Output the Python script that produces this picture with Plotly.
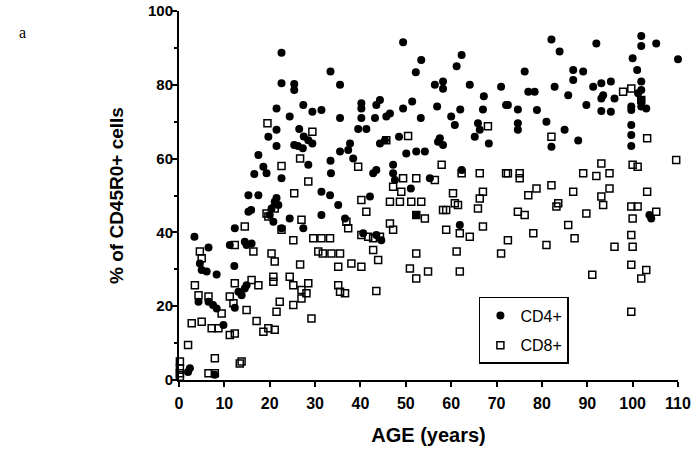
import plotly.graph_objects as go

# CD4+ (filled circles): age (years), % CD45R0+ cells
cd4_age = [22.6, 22.6, 25.4, 25.4, 33.4, 35.5, 21.5, 24.4, 27.4, 29.4, 31.4, 35.5, 21.5, 19.7, 21.5,
           26.5, 27.5, 28.5, 26.2, 27.3, 25.4, 29.4, 17.5, 18.6, 19.3, 16.6, 22.6, 28.5, 33.4, 33.5,
           35.5, 15.3, 17.5, 21.5, 31.4, 33.3,
           49.4, 53.4, 52.2, 62.3, 61.2, 56.4, 58.2, 58.2, 64.1, 71.0, 67.2, 40.2, 40.2, 44.3, 43.5,
           51.4, 49.4, 56.9, 62.0, 67.0, 72.1, 40.2, 43.2, 45.7, 46.5, 53.3, 60.0, 60.8, 65.9, 66.3,
           65.2, 39.5, 41.3, 44.3, 45.4, 48.5, 37.7, 37.3, 38.4, 50.1, 52.3, 54.2, 57.5, 58.2, 57.1,
           68.3, 42.8, 43.5, 47.2, 47.2, 47.6, 55.3, 62.3, 42.1, 51.1,
           82.1, 83.9, 92.0, 101.9, 101.9, 105.2, 110.0, 100.0, 101.0, 76.2, 86.9, 89.1, 86.9, 82.8,
           77.0, 78.4, 85.8, 91.3, 93.1, 95.2, 93.5, 93.1, 96.0, 101.9, 101.9, 101.2, 101.9, 89.8,
           72.5, 74.7, 78.9, 93.1, 95.2, 99.7, 99.7, 101.9, 103.0, 81.0, 74.7, 74.7, 85.0, 82.1,
           88.0, 99.7, 99.7, 99.7,
           15.9, 3.4, 6.5, 12.3, 11.2, 14.5, 14.9, 16.0, 4.6, 5.0, 6.1, 8.3, 12.2, 20.4, 21.1, 21.9,
           20.0, 20.8, 24.4, 22.6, 27.4, 31.4, 35.1, 4.3, 6.5, 7.5, 8.3, 9.8, 13.1, 13.8, 14.5, 14.9,
           12.3, 2.4, 2.0, 7.9, 15.3,
           61.9, 52.3, 36.6, 40.6, 43.5, 44.6, 103.7, 104.1]
cd4_val = [88.7, 80.4, 80.2, 78.6, 83.6, 80.0, 73.6, 71.4, 74.5, 72.7, 73.2, 71.0, 67.8, 65.9, 63.4,
           68.0, 66.0, 65.0, 63.4, 62.8, 63.7, 64.1, 61.0, 57.8, 56.0, 55.8, 54.7, 58.3, 59.4, 56.0,
           61.9, 50.1, 50.1, 49.3, 51.0, 50.1,
           91.5, 86.7, 83.4, 88.1, 85.0, 80.0, 80.9, 78.9, 80.0, 79.5, 76.9, 75.0, 73.6, 75.9, 74.5,
           75.5, 73.6, 74.1, 73.3, 73.3, 74.5, 71.0, 71.0, 71.4, 72.2, 71.0, 71.4, 69.1, 69.6, 67.8,
           65.9, 68.0, 68.0, 64.1, 65.0, 65.9, 64.1, 62.3, 60.0, 61.4, 61.9, 61.9, 65.5, 63.7, 64.6,
           64.1, 56.0, 56.9, 58.3, 56.0, 54.2, 54.7, 56.9, 49.7, 51.9,
           92.3, 89.0, 91.2, 93.2, 90.5, 91.2, 86.9, 87.2, 84.0, 83.6, 84.0, 83.6, 81.3, 79.5,
           78.1, 78.1, 77.2, 79.5, 80.4, 80.9, 77.2, 76.3, 76.3, 80.9, 78.6, 77.7, 75.9, 74.5,
           74.5, 73.3, 73.2, 72.9, 72.7, 74.1, 73.2, 74.1, 73.6, 70.0, 69.6, 67.8, 67.8, 63.2,
           64.9, 69.1, 66.4, 63.4,
           46.1, 38.8, 35.9, 41.1, 36.6, 37.5, 36.6, 37.0, 31.6, 29.8, 29.4, 28.6, 30.9, 46.5, 48.3, 47.4,
           44.7, 42.9, 43.8, 41.1, 41.1, 44.7, 47.4, 21.2, 21.2, 20.3, 19.4, 14.9, 23.9, 23.0, 24.8, 25.7,
           19.6, 3.2, 2.2, 1.4, 45.6,
           42.0, 44.7, 43.8, 39.8, 39.3, 37.9, 44.7, 43.8]

# CD8+ (open squares)
cd8_age = [19.5, 29.4, 26.7, 22.6, 28.5, 25.4,
           45.7, 50.5, 68.1, 39.5, 49.4, 52.3, 56.4, 57.9, 62.3, 66.3, 72.1, 47.2, 49.0, 67.0, 60.4,
           97.9, 99.7, 101.9, 82.1, 103.2, 93.1, 100.0, 101.1, 109.6, 72.5, 75.1, 75.1, 89.1, 92.0,
           94.9, 82.1, 78.8, 77.0, 94.9, 103.2, 86.9, 93.1,
           14.5, 12.3, 16.4, 4.6, 5.0, 19.3, 19.7, 21.1, 22.6, 27.0, 25.2, 29.6, 31.4, 33.3, 30.7,
           31.7, 33.6, 35.5, 20.4, 21.1, 26.7, 35.1, 20.8, 20.8, 24.4, 25.2, 27.0, 28.5, 28.1, 35.1,
           35.5, 3.5, 4.3, 6.5, 12.3, 16.0, 17.5, 11.2, 12.0, 14.9, 9.4, 22.2, 21.5, 25.2, 27.0,
           29.2, 17.1, 18.6, 19.7, 21.1, 11.2, 12.3, 2.8, 5.0, 7.2, 8.7, 2.0, 7.9, 13.8, 13.4,
           0.2, 0.2, 0.2, 0.2, 6.5, 7.9,
           40.2, 41.3, 46.5, 48.7, 51.2, 53.4, 60.8, 61.5, 58.2, 58.9, 65.9, 66.3, 52.3, 54.2, 36.9,
           37.3, 46.5, 47.2, 58.9, 61.9, 64.1, 67.0, 40.2, 41.7, 42.8, 44.3, 42.8, 43.9, 52.3, 61.2,
           71.0, 72.5, 38.0, 40.2, 50.9, 52.3, 54.9, 61.9, 36.6, 43.5,
           83.2, 83.6, 93.5, 89.8, 99.7, 100.0, 101.1, 105.2, 74.7, 76.2, 85.8, 78.1, 81.0, 87.2,
           96.0, 99.7, 100.0, 99.7, 103.0, 101.9, 91.1, 99.7]
cd8_val = [69.6, 67.3, 60.0, 58.0, 53.8, 50.6,
           65.0, 66.1, 68.8, 57.8, 54.7, 54.7, 54.2, 58.3, 56.0, 56.0, 56.0, 52.4, 51.0, 51.0, 50.6,
           78.1, 79.0, 75.9, 65.9, 65.5, 58.7, 58.3, 57.8, 59.6, 56.0, 56.0, 54.7, 56.0, 55.3,
           56.0, 52.8, 51.9, 50.1, 51.9, 51.0, 51.0, 49.7,
           41.6, 36.6, 34.8, 34.8, 33.0, 45.1, 44.3, 46.5, 40.7, 43.4, 37.9, 38.4, 38.4, 38.4, 34.8,
           34.3, 34.3, 34.3, 34.3, 32.1, 31.3, 30.7, 28.0, 26.6, 28.0, 25.7, 24.4, 26.2, 23.5, 25.7,
           23.9, 25.7, 23.0, 22.6, 26.2, 27.1, 25.7, 22.6, 20.8, 19.0, 18.0, 21.2, 18.5, 20.3, 22.1,
           16.7, 16.0, 13.1, 14.0, 13.6, 12.2, 12.6, 15.4, 15.8, 14.0, 14.0, 9.5, 5.9, 5.0, 4.5,
           5.0, 3.2, 1.8, 0.9, 1.8, 1.8,
           48.8, 45.6, 48.3, 48.3, 48.3, 48.3, 47.9, 47.4, 46.1, 46.1, 46.5, 49.2, 44.7, 43.8, 42.9,
           41.1, 42.4, 40.7, 40.7, 39.8, 38.8, 41.6, 39.3, 38.8, 38.4, 38.8, 35.2, 32.5, 34.3, 34.8,
           34.3, 37.9, 31.6, 30.7, 30.2, 27.5, 29.4, 29.4, 23.5, 24.1,
           47.0, 47.9, 47.4, 45.1, 47.0, 43.8, 47.0, 45.6, 45.6, 44.7, 42.0, 39.8, 36.6, 38.4,
           36.1, 39.3, 36.1, 31.2, 29.8, 27.5, 28.5, 18.5]

x_ticks = [0, 10, 20, 30, 40, 50, 60, 70, 80, 90, 100, 110]
y_ticks = [0, 20, 40, 60, 80, 100]

FONT = "Liberation Sans"

fig = go.Figure()
fig.add_trace(go.Scatter(
    x=cd4_age, y=cd4_val, mode="markers", name="CD4+", legendgroup="a",
    marker=dict(symbol="circle", size=8, color="black", line=dict(width=0)),
    cliponaxis=False))
fig.add_trace(go.Scatter(
    x=cd8_age, y=cd8_val, mode="markers", name="CD8+", legendgroup="b",
    marker=dict(symbol="square-open", size=7, color="black", line=dict(width=1.5, color="black")),
    cliponaxis=False))

fig.update_layout(
    width=697, height=469,
    margin=dict(l=179, r=19, t=11, b=89, autoexpand=False),
    paper_bgcolor="white", plot_bgcolor="white",
    font=dict(family=FONT, color="black"),
    showlegend=True,
    legend=dict(x=0.601, y=0.225, xanchor="left", yanchor="top",
                bordercolor="black", borderwidth=1.5, bgcolor="white",
                font=dict(family=FONT, size=16, color="black"),
                tracegroupgap=6, traceorder="grouped"),
    xaxis=dict(range=[0, 110], tickvals=x_ticks, ticktext=[str(v) for v in x_ticks],
               automargin=False,
               showgrid=False, zeroline=False, showline=True, linecolor="black", linewidth=2,
               ticks="outside", ticklen=5, tickwidth=1.5, tickcolor="black",
               ticklabelstandoff=3,
               tickfont=dict(family=FONT, size=16, color="black", weight="bold"),
               title=dict(text="AGE (years)", standoff=17,
                          font=dict(family=FONT, size=20, color="black", weight="bold"))),
    yaxis=dict(range=[0, 100], tickvals=y_ticks, ticktext=[str(v) for v in y_ticks],
               automargin=False,
               showgrid=False, zeroline=False, showline=True, linecolor="black", linewidth=2,
               ticks="outside", ticklen=5, tickwidth=1.5, tickcolor="black",
               ticklabelstandoff=-4,
               minor=dict(dtick=10, ticks="outside", ticklen=3, tickcolor="black", showgrid=False),
               tickfont=dict(family=FONT, size=15, color="black", weight="bold"),
               title=dict(text="% of CD45R0+ cells", standoff=19,
                          font=dict(family=FONT, size=19, color="black", weight="bold"))),
    annotations=[dict(text="a", xref="paper", yref="paper", x=-0.313, y=0.943,
                      xanchor="center", yanchor="middle", showarrow=False,
                      font=dict(family="Liberation Serif", size=16, color="black"))],
)

fig.write_html("out.html", config={"displayModeBar": False},
               post_script="document.body.style.margin='0';")
